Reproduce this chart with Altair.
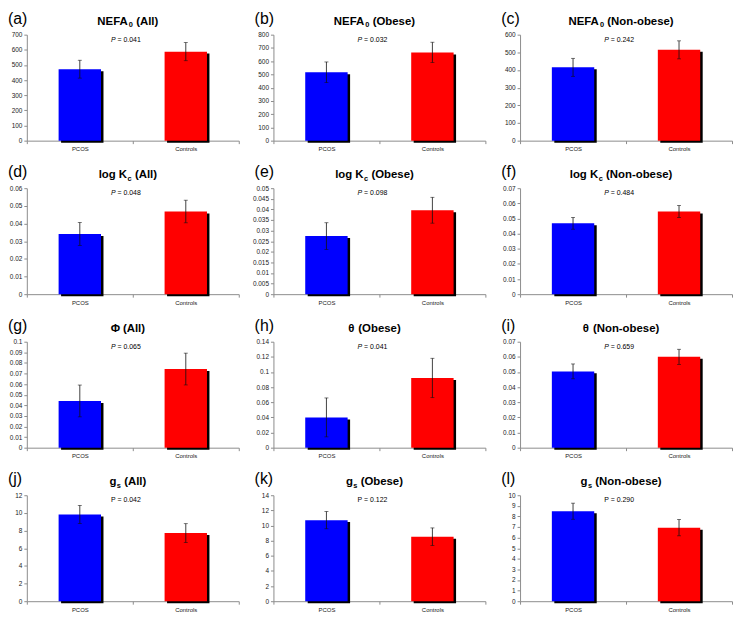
import altair as alt
import pandas as pd

# ---------------- data ----------------
panel_ids = ["a", "b", "c", "d", "e", "f", "g", "h", "i", "j", "k", "l"]
title_main = ["NEFA", "NEFA", "NEFA", "log K", "log K", "log K", "Φ", "θ", "θ", "g", "g", "g"]
title_sub = ["0", "0", "0", "c", "c", "c", "", "", "", "s", "s", "s"]
title_rest = ["(All)", "(Obese)", "(Non-obese)", "(All)", "(Obese)", "(Non-obese)",
              "(All)", "(Obese)", "(Non-obese)", "(All)", "(Obese)", "(Non-obese)"]
p_values = ["0.041", "0.032", "0.242", "0.048", "0.098", "0.484",
            "0.065", "0.041", "0.659", "0.042", "0.122", "0.290"]
p_italic = [True] * 9 + [False] * 3
groups = ["PCOS", "Controls"]
pcos_mean = [472, 516, 415, 0.0341, 0.0274, 0.0468, 0.0441, 0.0400, 0.0504, 9.82, 10.71, 8.49]
pcos_err = [59, 78, 51, 0.0065, 0.0063, 0.0039, 0.0150, 0.0257, 0.0049, 1.03, 1.14, 0.76]
ctrl_mean = [588, 666, 514, 0.0468, 0.0396, 0.0546, 0.0742, 0.0921, 0.0600, 7.71, 8.52, 6.94]
ctrl_err = [60, 77, 51, 0.0064, 0.0061, 0.0040, 0.0150, 0.0260, 0.0050, 1.07, 1.16, 0.77]
y_max = [700, 800, 600, 0.06, 0.05, 0.07, 0.1, 0.14, 0.07, 12, 14, 10]
y_step = [100, 100, 100, 0.01, 0.005, 0.01, 0.01, 0.02, 0.01, 2, 2, 1]

# ---------------- layout / style ----------------
W, H = 214, 107
BAR = 0.2 * W
FONT = "Liberation Sans"
AXIS_GRAY = "#8c8c8c"
TITLE_SIZE = 11.5
SUB_SIZE = 7.5
P_SIZE = 7

BOLD_W = {' ': 278, '(': 333, ')': 333, '-': 333, 'A': 722, 'E': 667, 'F': 611, 'K': 722,
          'N': 722, 'O': 778, 'a': 556, 'b': 611, 'e': 556, 'g': 611, 'l': 278, 'n': 611,
          'o': 611, 's': 556, 'Φ': 800, 'θ': 611}
REG_W = {'0': 556, 'c': 500, 's': 500, ' ': 278, '=': 584, '.': 278, '1': 556, '2': 556,
         '3': 556, '4': 556, '5': 556, '6': 556, '7': 556, '8': 556, '9': 556, 'P': 667}


def tw(s, size, table):
    return sum(table.get(ch, 556) for ch in s) * size / 1000.0


def text_layer(txt, x, y, size, align="left", weight="normal", style="normal"):
    return alt.Chart(pd.DataFrame({"t": [txt]})).mark_text(
        x=x, y=y, align=align, baseline="alphabetic", font=FONT, fontSize=size,
        fontWeight=weight, fontStyle=style, color="black"
    ).encode(text="t:N")


panels = []
for i in range(12):
    df = pd.DataFrame({
        "group": groups,
        "mean": [pcos_mean[i], ctrl_mean[i]],
        "lo": [pcos_mean[i] - pcos_err[i], ctrl_mean[i] - ctrl_err[i]],
        "hi": [pcos_mean[i] + pcos_err[i], ctrl_mean[i] + ctrl_err[i]],
    })
    n_ticks = int(round(y_max[i] / y_step[i]))
    ticks = [round(k * y_step[i], 6) for k in range(n_ticks + 1)]

    x_scale = alt.Scale(domain=groups, paddingInner=0, paddingOuter=0)
    y_scale = alt.Scale(domain=[0, y_max[i]], nice=False, zero=True)

    def X():
        return alt.X("group:N", sort=groups, scale=x_scale,
                     axis=alt.Axis(title=None, labelAngle=0, tickBand="extent"))

    def Y(field):
        return alt.Y(field, type="quantitative", scale=y_scale,
                     axis=alt.Axis(title=None, values=ticks, format="~r", grid=False,
                                   labelOverlap=False))

    base = alt.Chart(df)
    shadow = base.mark_bar(color="black", size=BAR, xOffset=2.5, yOffset=2).encode(x=X(), y=Y("mean"))
    bars = base.mark_bar(size=BAR).encode(
        x=X(), y=Y("mean"),
        color=alt.Color("group:N", scale=alt.Scale(domain=groups, range=["#0000FF", "#FF0000"]),
                        legend=None))
    err = base.mark_rule(color="#111", strokeWidth=0.8).encode(x=X(), y=Y("lo"), y2="hi:Q")
    cap_lo = base.mark_tick(color="#111", size=4, thickness=0.8).encode(x=X(), y=Y("lo"))
    cap_hi = base.mark_tick(color="#111", size=4, thickness=0.8).encode(x=X(), y=Y("hi"))

    # title made of main text + subscript + rest
    space = tw(" ", TITLE_SIZE, BOLD_W)
    w_main = tw(title_main[i], TITLE_SIZE, BOLD_W)
    w_sub = tw(title_sub[i], SUB_SIZE, BOLD_W) + (0.5 if title_sub[i] else 0)
    w_rest = tw(title_rest[i], TITLE_SIZE, BOLD_W)
    total = w_main + w_sub + space + w_rest
    x0 = W / 2 - 5 - total / 2
    ty = -10
    layers = [shadow, bars, err, cap_lo, cap_hi,
              text_layer(title_main[i], x0, ty, TITLE_SIZE, weight="bold")]
    if title_sub[i]:
        layers.append(text_layer(title_sub[i], x0 + w_main + 0.5, ty + 2.5, SUB_SIZE, weight="bold"))
    layers.append(text_layer(title_rest[i], x0 + w_main + w_sub + space, ty, TITLE_SIZE, weight="bold"))

    # P value label
    p_rest = "= " + p_values[i]
    wp = tw("P ", P_SIZE, REG_W)
    wr = tw(p_rest, P_SIZE, REG_W)
    px0 = W / 2 - 7 - (wp + wr) / 2
    layers.append(text_layer("P", px0, 7, P_SIZE, style="italic" if p_italic[i] else "normal"))
    layers.append(text_layer(p_rest, px0 + wp, 7, P_SIZE))

    # panel letter
    layers.append(text_layer("(" + panel_ids[i] + ")", -19, -11, 16))

    panels.append(alt.layer(*layers).properties(width=W, height=H))

chart = alt.concat(*panels, columns=3, spacing={"row": 48, "column": 35}, bounds="flush").properties(
    padding=0
).configure_view(
    stroke=None
).configure_axis(
    labelFont=FONT, labelColor="#222", domainColor=AXIS_GRAY, tickColor=AXIS_GRAY,
    tickSize=3, labelPadding=2, labelOverlap=False
).configure_axisX(
    labelFontSize=6
).configure_axisY(
    labelFontSize=6.5, labelOverlap=False
)

chart.save("out.html", embed_options={"renderer": "svg", "actions": False})
